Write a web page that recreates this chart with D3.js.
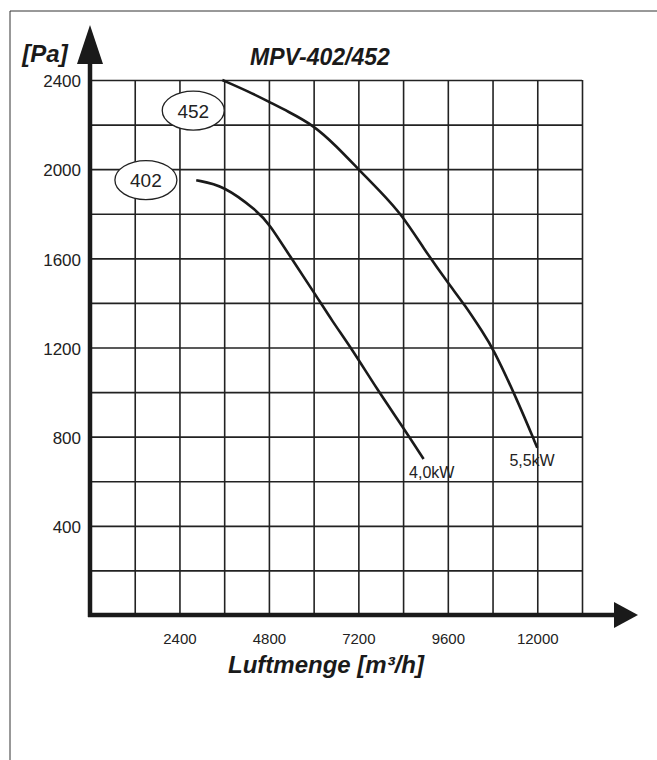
<!DOCTYPE html>
<html>
<head>
<meta charset="utf-8">
<script src="https://cdn.jsdelivr.net/npm/d3@7"></script>
<style>
  body { margin: 0; background: #fff; }
  svg { display: block; font-family: "Liberation Sans", Arial, sans-serif; }
</style>
</head>
<body>
<div id="chart"></div>
<script>
// fan curves (m³/h, Pa)
const curve402 = [
  [2850, 1950], [3580, 1928], [4500, 1810], [4800, 1757], [5400, 1600],
  [6000, 1450], [6500, 1318], [7020, 1195], [7720, 1008], [8400, 842], [8950, 700]
];
const curve452 = [
  [3550, 2400], [4300, 2345], [4800, 2302], [5300, 2260], [6000, 2197],
  [6600, 2105], [7200, 2000], [7800, 1898], [8360, 1797], [8950, 1645],
  [9600, 1490], [10060, 1390], [10550, 1265], [10800, 1200], [11450, 970],
  [12000, 750]
];
const models = ["402", "452"];
const modelTags = [[1500, 1951], [2770, 2263]];
const powerLabels = ["4,0kW", "5,5kW"];
const powerPos = [[9170, 614], [11860, 670]];

const xTicks = [2400, 4800, 7200, 9600, 12000];
const yTicks = [400, 800, 1200, 1600, 2000, 2400];
const xGrid = d3.range(1200, 13201, 1200);
const yGrid = d3.range(200, 2401, 200);

const width = 657;
const height = 760;

const x = d3.scaleLinear().domain([0, 13200]).range([90, 582]);
const y = d3.scaleLinear().domain([0, 2400]).range([615, 80]);

const svg = d3.select("#chart")
  .append("svg")
  .attr("width", width)
  .attr("height", height);

// frame lines
svg.append("line").attr("x1", 10).attr("x2", 657).attr("y1", 11).attr("y2", 11)
  .attr("stroke", "#333").attr("stroke-width", 1);
svg.append("line").attr("x1", 10).attr("x2", 10).attr("y1", 11).attr("y2", 760)
  .attr("stroke", "#333").attr("stroke-width", 1);

// grid
const gridColor = "#222";
svg.append("g")
  .attr("transform", `translate(0,${y(0)})`)
  .call(d3.axisBottom(x).tickValues(xGrid).tickSize(-(y(0) - y(2400))).tickFormat(""))
  .call(g => g.select(".domain").remove())
  .call(g => g.selectAll("line").attr("stroke", gridColor).attr("stroke-width", 1.6));

svg.append("g")
  .attr("transform", `translate(${x(0)},0)`)
  .call(d3.axisLeft(y).tickValues(yGrid).tickSize(-(x(13200) - x(0))).tickFormat(""))
  .call(g => g.select(".domain").remove())
  .call(g => g.selectAll("line").attr("stroke", gridColor).attr("stroke-width", 1.6));

// tick labels
svg.append("g")
  .attr("transform", `translate(${x(0) - 9},0)`)
  .call(d3.axisLeft(y).tickValues(yTicks).tickSize(0).tickPadding(0).tickFormat(d3.format("d")))
  .call(g => g.select(".domain").remove())
  .call(g => g.selectAll("text")
    .attr("font-size", 17).attr("dy", "0.4em")
    .attr("font-family", "Liberation Sans, Arial, sans-serif")
    .attr("fill", "#222"));

svg.append("g")
  .attr("transform", `translate(0,${y(0) + 18})`)
  .call(d3.axisBottom(x).tickValues(xTicks).tickSize(0).tickPadding(0).tickFormat(d3.format("d")))
  .call(g => g.select(".domain").remove())
  .call(g => g.selectAll("text")
    .attr("font-size", 15).attr("font-family", "Liberation Sans, Arial, sans-serif")
    .attr("fill", "#222"));

// thick axes with arrows
const ax = x(0), ay = y(0);
svg.append("line").attr("x1", ax).attr("x2", ax).attr("y1", ay + 2).attr("y2", 60)
  .attr("stroke", "#1a1a1a").attr("stroke-width", 4.5);
svg.append("path").attr("d", `M${ax},25 L${ax - 13},64 L${ax + 13},64 Z`).attr("fill", "#1a1a1a");
svg.append("line").attr("x1", ax - 2).attr("x2", 618).attr("y1", ay).attr("y2", ay)
  .attr("stroke", "#1a1a1a").attr("stroke-width", 4.5);
svg.append("path").attr("d", `M638,${ay} L614,${ay - 13} L614,${ay + 13} Z`).attr("fill", "#1a1a1a");

// curves
const line = d3.line().x(d => x(d[0])).y(d => y(d[1])).curve(d3.curveBasis);
[curve402, curve452].forEach(c => {
  svg.append("path")
    .attr("d", line(c))
    .attr("fill", "none")
    .attr("stroke", "#1a1a1a")
    .attr("stroke-width", 2.6);
});

// model tags in ellipses
models.forEach((m, i) => {
  const [cx, cy] = modelTags[i];
  svg.append("ellipse")
    .attr("cx", x(cx)).attr("cy", y(cy))
    .attr("rx", 31).attr("ry", 19.5)
    .attr("fill", "#fff").attr("stroke", "#222").attr("stroke-width", 1.3);
  svg.append("text")
    .attr("x", x(cx)).attr("y", y(cy) + 7)
    .attr("text-anchor", "middle")
    .attr("font-size", 19)
    .attr("fill", "#222")
    .text(m);
});

// motor power labels
powerLabels.forEach((t, i) => {
  svg.append("text")
    .attr("x", x(powerPos[i][0])).attr("y", y(powerPos[i][1]))
    .attr("text-anchor", "middle")
    .attr("font-size", 16)
    .attr("fill", "#222")
    .text(t);
});

// titles
const boldItalic = sel => sel.attr("font-weight", "bold").attr("font-style", "italic").attr("fill", "#1a1a1a");
svg.append("text").attr("x", 320).attr("y", 65).attr("text-anchor", "middle")
  .attr("font-size", 23).call(boldItalic).text("MPV-402/452");
svg.append("text").attr("x", 45).attr("y", 62).attr("text-anchor", "middle")
  .attr("font-size", 24).call(boldItalic).text("[Pa]");
svg.append("text").attr("x", 326).attr("y", 673).attr("text-anchor", "middle")
  .attr("font-size", 24).call(boldItalic).text("Luftmenge [m³/h]");
</script>
</body>
</html>
